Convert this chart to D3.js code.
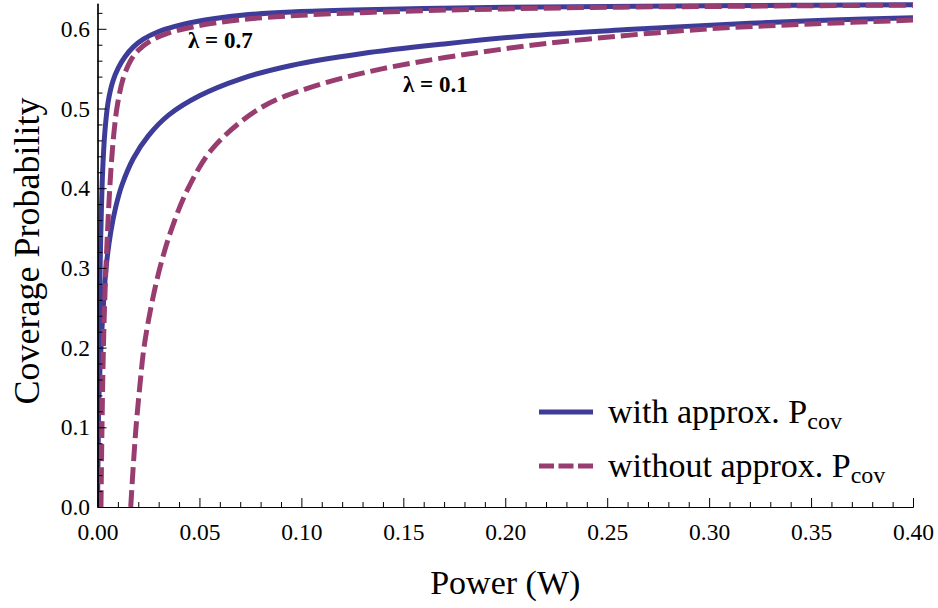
<!DOCTYPE html>
<html>
<head>
<meta charset="utf-8">
<script src="https://cdn.jsdelivr.net/npm/d3@7"></script>
<style>
  html, body { margin: 0; padding: 0; background: #fff; }
  svg { display: block; font-family: "Liberation Serif", "Times New Roman", serif; }
</style>
</head>
<body>
<svg id="chart" width="938" height="608"></svg>
<script>
// ---- data ----
const xTicks = [0, 0.05, 0.10, 0.15, 0.20, 0.25, 0.30, 0.35, 0.40];
const xTickLabels = ["0.00", "0.05", "0.10", "0.15", "0.20", "0.25", "0.30", "0.35", "0.40"];
const yTicks = [0, 0.1, 0.2, 0.3, 0.4, 0.5, 0.6];
const yTickLabels = ["0.0", "0.1", "0.2", "0.3", "0.4", "0.5", "0.6"];
const seriesNames = ["with approx. P", "without approx. P"];
const curveLabels = ["\u03bb = 0.7", "\u03bb = 0.1"];

// lambda = 0.7, with approximation (solid)
const l07Approx = [[0,0],[0.0003,0.12],[0.0008,0.24],[0.0016,0.34],[0.0025,0.42],[0.0036,0.47],[0.0052,0.508],[0.0075,0.534],[0.0102,0.551],[0.0135,0.565],[0.0175,0.577],[0.0225,0.587],[0.0295,0.596],[0.038,0.603],[0.0527,0.611],[0.0707,0.617],[0.095,0.621],[0.125,0.6235],[0.16,0.6255],[0.20,0.627],[0.25,0.628],[0.30,0.629],[0.35,0.6297],[0.40,0.6303]];
// lambda = 0.7, without approximation (dashed)
const l07Exact = [[0.0017,0],[0.0022,0.1],[0.0029,0.2],[0.0037,0.27],[0.0050,0.35],[0.0065,0.42],[0.0080,0.468],[0.0098,0.505],[0.0125,0.537],[0.016,0.559],[0.020,0.573],[0.026,0.585],[0.034,0.594],[0.048,0.603],[0.069,0.611],[0.10,0.617],[0.15,0.622],[0.20,0.625],[0.25,0.627],[0.30,0.628],[0.35,0.629],[0.40,0.6297]];
// lambda = 0.1, with approximation (solid)
const l01Approx = [[0,0],[0.0002,0.07],[0.0005,0.12],[0.001,0.16],[0.0017,0.2],[0.0028,0.25],[0.0042,0.3],[0.0065,0.345],[0.009,0.377],[0.012,0.404],[0.0175,0.437],[0.025,0.466],[0.035,0.492],[0.05,0.516],[0.07,0.537],[0.095,0.554],[0.13,0.569],[0.17,0.581],[0.21,0.591],[0.26,0.599],[0.32,0.607],[0.36,0.611],[0.40,0.614]];
// lambda = 0.1, without approximation (dashed)
const l01Exact = [[0.0163,0],[0.0175,0.05],[0.0189,0.1],[0.0207,0.15],[0.0228,0.2],[0.0262,0.25],[0.0306,0.3],[0.0365,0.35],[0.0445,0.4],[0.0565,0.45],[0.0795,0.5],[0.1026,0.525],[0.14,0.55],[0.2,0.575],[0.24,0.587],[0.3,0.6],[0.35,0.606],[0.4,0.611]];

// ---- layout ----
const svg = d3.select("#chart");
const colSolid = "#3d3d99", colDash = "#993d71";
const x = d3.scaleLinear().domain([0, 0.4]).range([97.5, 913]);
const y = d3.scaleLinear().domain([0, 0.632]).range([507, 3.3]);

svg.append("defs").append("clipPath").attr("id", "clip")
  .append("rect").attr("x", x(0)).attr("y", y(0.632) - 3).attr("width", x(0.4) - x(0) + 3).attr("height", y(0) - y(0.632) + 3);

const line = d3.line().x(d => x(d[0])).y(d => y(d[1])).curve(d3.curveCatmullRom.alpha(0.5));
const plot = svg.append("g").attr("clip-path", "url(#clip)");
[[l07Approx, false], [l01Approx, false], [l07Exact, true], [l01Exact, true]].forEach(([data, dashed]) => {
  plot.append("path").datum(data).attr("d", line)
    .attr("fill", "none")
    .attr("stroke", dashed ? colDash : colSolid)
    .attr("stroke-width", 5)
    .attr("stroke-dasharray", dashed ? "17,6" : null);
});

// ---- axes ----
const minorX = d3.range(0, 0.4001, 0.01).filter(v => Math.abs(v / 0.05 - Math.round(v / 0.05)) > 1e-6);
const minorY = d3.range(0, 0.6201, 0.02).filter(v => Math.abs(v / 0.1 - Math.round(v / 0.1)) > 1e-6);

const gx = svg.append("g").attr("transform", `translate(0,${y(0)})`);
gx.call(d3.axisBottom(x).tickValues(minorX).tickSize(-5).tickSizeOuter(0).tickFormat(""));
gx.append("g").call(d3.axisBottom(x).tickValues(xTicks).tickSize(-9).tickSizeOuter(0).tickPadding(16)
  .tickFormat((d, i) => xTickLabels[i]));

const gy = svg.append("g").attr("transform", `translate(${x(0)},0)`);
gy.call(d3.axisLeft(y).tickValues(minorY).tickSize(-5).tickSizeOuter(0).tickFormat(""));
gy.append("g").call(d3.axisLeft(y).tickValues(yTicks).tickSize(-9).tickSizeOuter(0).tickPadding(7.5)
  .tickFormat((d, i) => yTickLabels[i]));

svg.selectAll(".tick text").attr("font-size", 23.5).attr("font-family", "Liberation Serif").attr("fill", "#000");
svg.selectAll(".domain").attr("stroke", "#000").attr("stroke-width", 1.2);
svg.selectAll(".tick line").attr("stroke", "#000").attr("stroke-width", 1);

// ---- axis titles ----
svg.append("text").attr("x", (x(0) + x(0.4)) / 2).attr("y", 594).attr("text-anchor", "middle")
  .attr("font-size", 34).text("Power (W)");
svg.append("text").attr("transform", "translate(39,251) rotate(-90)").attr("text-anchor", "middle")
  .attr("font-size", 36).text("Coverage Probability");

// ---- curve labels ----
svg.append("text").attr("x", 188).attr("y", 48).attr("font-size", 23).attr("font-weight", "bold").text(curveLabels[0]);
svg.append("text").attr("x", 403).attr("y", 92).attr("font-size", 23).attr("font-weight", "bold").text(curveLabels[1]);

// ---- legend ----
const legY = [412, 466], legTxtY = [423, 477];
seriesNames.forEach((name, i) => {
  svg.append("line").attr("x1", 539).attr("x2", 593).attr("y1", legY[i]).attr("y2", legY[i])
    .attr("stroke", i ? colDash : colSolid).attr("stroke-width", 5)
    .attr("stroke-dasharray", i ? "15,4.5" : null);
  const t = svg.append("text").attr("x", 608).attr("y", legTxtY[i]).attr("font-size", 34);
  t.append("tspan").text(name);
  t.append("tspan").attr("font-size", 24).attr("dy", 6).text("cov");
});
</script>
</body>
</html>
